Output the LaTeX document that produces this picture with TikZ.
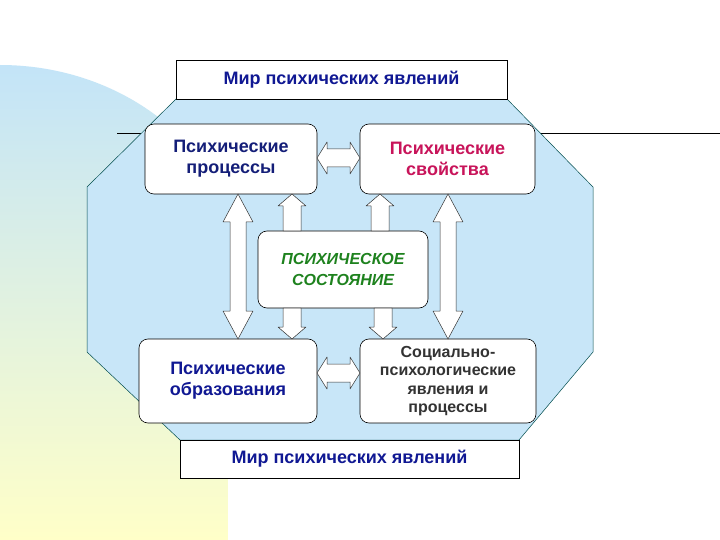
\documentclass[tikz,border=0pt]{standalone}
\usepackage{fontspec}
\setmainfont{Liberation Sans}
\definecolor{oct}{RGB}{200,230,248}
\definecolor{navy}{RGB}{20,30,120}
\definecolor{crim}{RGB}{200,20,90}
\definecolor{grn}{RGB}{30,130,30}
\definecolor{bandtop}{RGB}{195,228,248}
\definecolor{bandbot}{RGB}{255,255,200}
\newcommand\vdbl[4]{\draw[blk] (#1,#2) -- (#1+15,#2+#4) -- (#1+8,#2+#4) -- (#1+8,#3-#4) -- (#1+15,#3-#4) -- (#1,#3) -- (#1-15,#3-#4) -- (#1-8,#3-#4) -- (#1-8,#2+#4) -- (#1-15,#2+#4) -- cycle;}
\newcommand\hdbl[3]{\draw[blk] (#1,#3) -- (#1+10,#3-16) -- (#1+10,#3-9) -- (#2-10,#3-9) -- (#2-10,#3-16) -- (#2,#3) -- (#2-10,#3+16) -- (#2-10,#3+9) -- (#1+10,#3+9) -- (#1+10,#3+16) -- cycle;}
\newcommand\sgl[4]{\draw[blk] (#1,#3) -- (#1+14,#3-#4*12) -- (#1+9,#3-#4*12) -- (#1+9,#2) -- (#1-9,#2) -- (#1-9,#3-#4*12) -- (#1-14,#3-#4*12) -- cycle;}
\begin{document}
\begin{tikzpicture}[x=1pt,y=-1pt,
  blk/.style={draw=black!80,fill=white,line width=0.5pt,line join=round},
  box/.style={draw=black,fill=white,rounded corners=9pt,line width=0.6pt,align=center,font=\fontsize{18}{21}\selectfont\bfseries},
  rect/.style={draw=black,fill=white,line width=0.6pt,font=\fontsize{18}{21}\selectfont\bfseries,text=navy!80!blue}]
\useasboundingbox (0,0) rectangle (720,540);
\fill[white] (0,0) rectangle (720,540);
% left band
\shade[top color=bandtop,bottom color=bandbot] (0,65) .. controls (110,65) and (200,130) .. (228,210) -- (228,540) -- (0,540) -- cycle;
% decoration lines
\draw[black,line width=0.6pt] (117,133) -- (150,133) (530,133) -- (720,133);
% octagon
\draw[fill=oct,draw=teal!60!black,line width=0.5pt] (176,99) -- (507,99) -- (593,187) -- (593,352) -- (519,440) -- (180,440) -- (87,352) -- (87,187) -- cycle;
% boxes
\node[rect,minimum width=331pt,minimum height=39pt] (top) at (341.5,79.5) {Мир психических явлений};
\node[rect,minimum width=339pt,minimum height=38pt] (bot) at (349.5,459) {Мир психических явлений};
\node[box,minimum width=172pt,minimum height=70pt,text=navy] (pp) at (231,159) {Психические\\процессы};
\node[box,minimum width=175pt,minimum height=70pt,text=crim] (ps) at (447.5,159) {Психические\\свойства};
\node[box,minimum width=170pt,minimum height=77pt,text=grn,font=\fontsize{16}{21}\selectfont\bfseries\itshape] (st) at (343,269.5) {ПСИХИЧЕСКОЕ\\СОСТОЯНИЕ};
\node[box,minimum width=178pt,minimum height=84pt,text=navy!80!blue] (po) at (228,381) {Психические\\образования};
\node[box,minimum width=176pt,minimum height=84pt,text=black!80,font=\fontsize{16}{18.5}\selectfont\bfseries] (sp) at (448,381) {Социально-\\психологические\\явления и\\процессы};
% arrows
\hdbl{317}{360}{158}
\hdbl{317}{360}{373}
\vdbl{238}{194}{339}{28}
\vdbl{448}{194}{339}{28}
\sgl{292}{231}{194}{-1}
\sgl{380}{231}{194}{-1}
\sgl{292}{308}{339}{1}
\sgl{383}{308}{339}{1}
\end{tikzpicture}
\end{document}
